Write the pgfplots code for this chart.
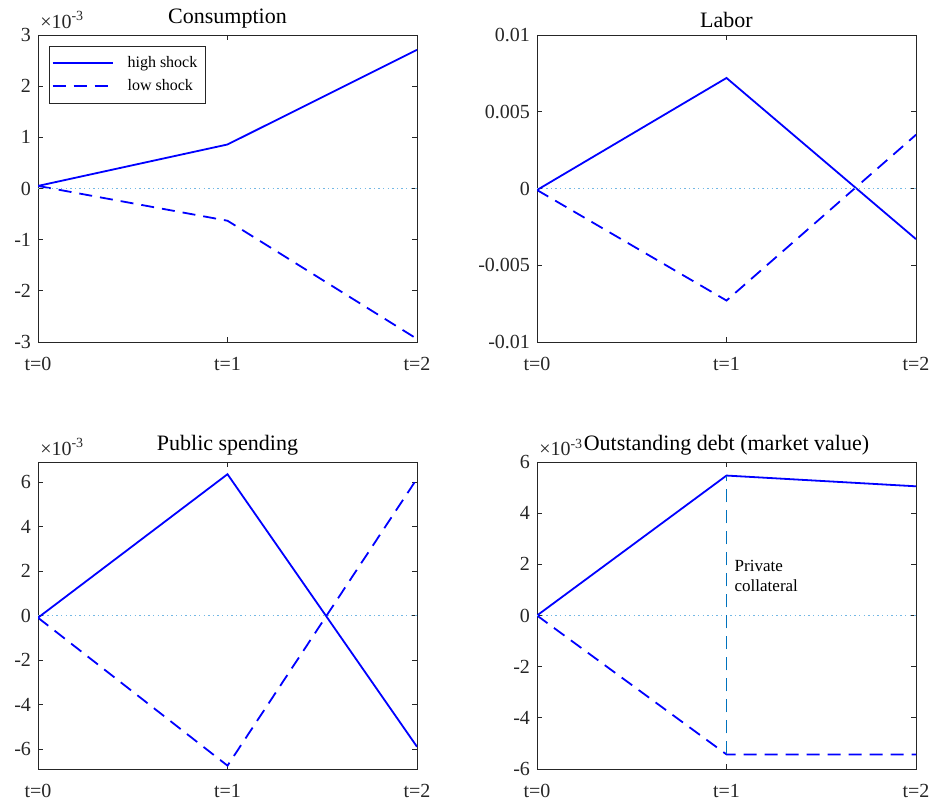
\documentclass[border=0pt]{standalone}
\usepackage{fontspec}
\setmainfont{Liberation Serif}
\usepackage{pgfplots}
\pgfplotsset{compat=1.18}
\definecolor{axgray}{rgb}{0.15,0.15,0.15}
\definecolor{mblue}{rgb}{0,0,1}
\definecolor{zline}{rgb}{0.45,0.72,0.90}
\definecolor{vline}{rgb}{0,0.447,0.741}
\pgfplotsset{
  mystyle/.style={
    scale only axis, width=189.5pt, height=153.5pt,
    xmin=0, xmax=2, xtick={0,1,2}, xticklabels={t=0,t=1,t=2},
    axis line style={axgray, line width=0.4pt},
    tick style={axgray, line width=0.4pt},
    major tick length=2.5pt,
    tick align=inside,
    scaled y ticks=false,
    ticklabel style={font=\fontsize{10}{12}\selectfont, text=axgray},
    xticklabel style={yshift=-4pt},
    /pgf/number format/assume math mode=true,
    title style={font=\fontsize{11}{13}\selectfont, text=black, yshift=-6pt},
    clip mode=individual,
  },
  hi/.style={mblue, line width=0.9pt, mark=none},
  lo/.style={mblue, line width=0.9pt, mark=none, dash pattern=on 6.5pt off 4pt},
  zer/.style={zline, line width=0.7pt, dash pattern=on 0.7pt off 1.6pt, mark=none},
}
\newcommand{\expo}{\node[anchor=south west, inner sep=0pt, font=\fontsize{10}{12}\selectfont, text=axgray] at (rel axis cs:0.005,1.02) {×10\textsuperscript{-3}};}
\begin{document}
\begin{tikzpicture}
\path[use as bounding box] (0,0) rectangle (465pt,400.5pt);
% Consumption
\begin{axis}[mystyle, at={(19pt,229.5pt)}, anchor=south west,
  title={Consumption}, ymin=-3, ymax=3, ytick={-3,-2,-1,0,1,2,3},
  yticklabels={-3,-2,-1,0,1,2,3},
  legend style={at={(0.03,0.965)}, anchor=north west, draw=axgray, line width=0.4pt,
    font=\fontsize{8}{10}\selectfont, inner xsep=1pt, inner ysep=3.5pt, row sep=1.5pt,
    column sep=4pt,
    nodes={inner xsep=3pt, inner ysep=1.5pt}},
  legend cell align=left,
  legend image code/.code={\draw[#1] (0pt,0pt) -- (30pt,0pt);}]
\addplot[hi] coordinates {(0,0.05) (1,0.86) (2,2.71)};
\addlegendentry{high shock}
\addplot[lo] coordinates {(0,0.05) (1,-0.63) (2,-2.94)};
\addlegendentry{low shock}
\addplot[zer, forget plot] coordinates {(0,0) (2,0)};
\expo
\end{axis}
% Labor
\begin{axis}[mystyle, at={(268.5pt,229.5pt)}, anchor=south west,
  title={Labor}, ymin=-0.01, ymax=0.01, ytick={-0.01,-0.005,0,0.005,0.01},
  yticklabels={-0.01,-0.005,0,0.005,0.01}]
\addplot[hi] coordinates {(0,-0.0001) (1,0.0072) (2,-0.0033)};
\addplot[lo] coordinates {(0,-0.0001) (1,-0.0073) (2,0.0035)};
\addplot[zer] coordinates {(0,0) (2,0)};
\end{axis}
% Public spending
\begin{axis}[mystyle, at={(19pt,16pt)}, anchor=south west,
  title={Public spending}, ymin=-6.9, ymax=6.9, ytick={-6,-4,-2,0,2,4,6},
  yticklabels={-6,-4,-2,0,2,4,6}]
\addplot[hi] coordinates {(0,-0.1) (1,6.35) (2,-5.9)};
\addplot[lo] coordinates {(0,-0.1) (1,-6.75) (2,6.15)};
\addplot[zer] coordinates {(0,0) (2,0)};
\expo
\end{axis}
% Outstanding debt
\begin{axis}[mystyle, at={(268.5pt,16pt)}, anchor=south west,
  title={Outstanding debt (market value)}, ymin=-6, ymax=6, ytick={-6,-4,-2,0,2,4,6},
  yticklabels={-6,-4,-2,0,2,4,6}]
\addplot[hi] coordinates {(0,0) (1,5.47) (2,5.05)};
\addplot[lo] coordinates {(0,0) (1,-5.43) (2,-5.43)};
\addplot[zer] coordinates {(0,0) (2,0)};
\addplot[vline, line width=0.6pt, dash pattern=on 6.5pt off 4pt, mark=none] coordinates {(1,-5.43) (1,5.47)};
\node[anchor=west, align=left, font=\fontsize{8.5}{10}\selectfont, inner sep=2pt] at (axis cs:1.02,1.56) {Private\\collateral};
\expo
\end{axis}
\end{tikzpicture}
\end{document}
